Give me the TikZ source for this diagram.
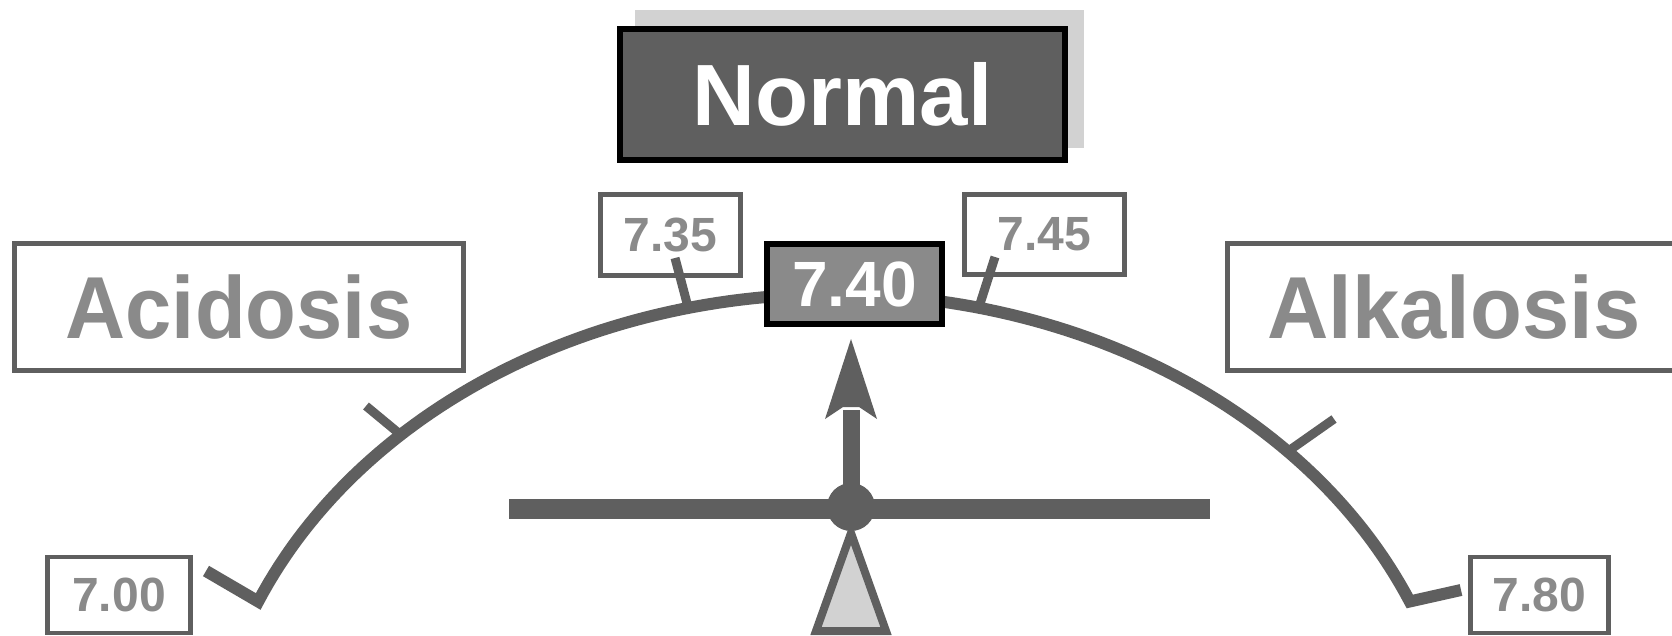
\documentclass[tikz,border=0pt]{standalone}
\usepackage{fontspec}
\usepackage{graphicx}
\setmainfont{Liberation Sans}
\definecolor{dk}{HTML}{5F5F5F}
\definecolor{md}{HTML}{8A8A8A}
\definecolor{lt}{HTML}{D2D2D2}
\tikzset{
  bigbox/.style={draw=dk, line width=4.5pt, fill=white, inner sep=0pt, text=md,
    font=\fontsize{88}{88}\selectfont\bfseries},
  valbox/.style={draw=dk, line width=4.5pt, fill=white, inner sep=0pt, text=md,
    font=\fontsize{48}{48}\selectfont\bfseries},
  darkbox/.style={draw=black, line width=6pt, inner sep=0pt, text=white},
  gline/.style={draw=dk, line width=12pt},
  tickline/.style={draw=dk, line width=9pt},
}
\begin{document}
\begin{tikzpicture}[x=1pt,y=-1pt]
\useasboundingbox (0,0) rectangle (1672,636);
\clip (0,0) rectangle (1672,636);
% shadow of Normal
\fill[lt] (635,10) rectangle (1084,148);
\node[darkbox, fill=dk, minimum width=445pt, minimum height=131pt,
  font=\fontsize{87}{87}\selectfont\bfseries] (normal) at (842.5,94.5) {Normal};
% arc with end hooks
\coordinate (hookL) at (206,571);
\coordinate (hookR) at (1461,590);
\draw[gline, line join=miter] (hookL) -- plot[domain=156.9:23.1, samples=120]
  ({834+626*cos(\x)}, {800-506*sin(\x)}) -- (hookR);
% boxes
\node[bigbox, minimum width=449pt, minimum height=127pt] (acid) at (239,307) {\scalebox{0.945}[1]{Acidosis}};
\node[bigbox, minimum width=473pt, minimum height=127pt, text width=473pt, align=left] (alk) at (1464,307) {\hspace*{40pt}\scalebox{0.965}[1]{Alkalosis}};
\node[valbox, minimum width=140pt, minimum height=81pt] (v735) at (670.5,235) {7.35};
\node[valbox, minimum width=160pt, minimum height=80pt] (v745) at (1044.5,234.5) {7.45};
\node[valbox, minimum width=143pt, minimum height=76pt] (v700) at (119,595) {7.00};
\node[valbox, minimum width=138pt, minimum height=76pt] (v780) at (1539.5,595) {7.80};
\node[darkbox, fill=md, minimum width=175pt, minimum height=80pt,
  font=\fontsize{64}{64}\selectfont\bfseries] (v740) at (854.5,284) {7.40};
% ticks
\coordinate (t735a) at (675,258);
\coordinate (t735b) at (688,307);
\coordinate (t745a) at (995,257);
\coordinate (t745b) at (979,307);
\coordinate (tla) at (366,406);
\coordinate (tlb) at (401,435);
\coordinate (tra) at (1334,419);
\coordinate (trb) at (1287,452);
\draw[tickline] (t735a) -- (t735b);
\draw[tickline] (t745a) -- (t745b);
\draw[tickline] (tla) -- (tlb);
\draw[tickline] (tra) -- (trb);
% balance
\coordinate (barL) at (509,508.5);
\coordinate (barR) at (1210,508.5);
\coordinate (shaftTop) at (851,410);
\draw[dk, line width=8pt, fill=lt, line join=miter] (851,533) -- (886,631) -- (816,631) -- cycle;
\draw[dk, line width=20pt] (barL) -- (barR);
\node[circle, fill=dk, minimum size=48pt, inner sep=0pt] (pivot) at (851,507) {};
\draw[dk, line width=17pt] (pivot.center) -- (shaftTop);
\fill[dk] (851,339) -- (877,419) -- (859,407) -- (843,407) -- (825,419) -- cycle;
\end{tikzpicture}
\end{document}
